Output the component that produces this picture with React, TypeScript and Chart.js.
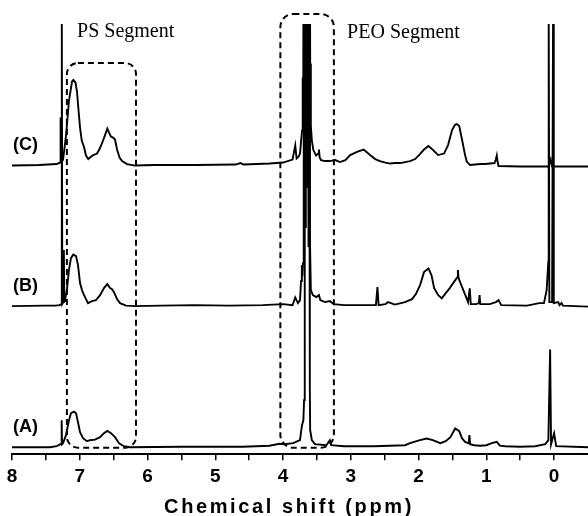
import React, { useEffect, useRef } from "react";
import { Chart, registerables } from "chart.js";

Chart.register(...registerables);

// ---------- Data (chemical shift in ppm, intensity above each trace's baseline) ----------
const ppmC = [
  8.0, 7.6, 7.34, 7.29, 7.283, 7.276, 7.247, 7.203, 7.159, 7.114, 7.095, 7.063, 7.041, 7.018, 6.996,
  6.971, 6.937, 6.908, 6.874, 6.849, 6.8, 6.745, 6.701, 6.657, 6.627, 6.593, 6.568, 6.539, 6.509,
  6.48, 6.45, 6.413, 6.376, 6.303, 6.185, 5.9, 5.3, 4.7, 4.63, 4.58, 4.2, 4.0, 3.86, 3.82, 3.8, 3.77,
  3.75, 3.72, 3.71, 3.7, 3.69, 3.685, 3.68, 3.672, 3.665, 3.655, 3.648, 3.64, 3.632, 3.625, 3.618,
  3.61, 3.6, 3.59, 3.575, 3.553, 3.513, 3.48, 3.47, 3.46, 3.44, 3.38,
  3.31, 3.23, 3.16, 3.08, 3.01, 2.9, 2.81, 2.716, 2.64, 2.57, 2.49, 2.42, 2.35, 2.27, 2.126, 2.05,
  1.98, 1.92, 1.855, 1.786, 1.712, 1.624, 1.565, 1.506, 1.46, 1.437, 1.4, 1.358, 1.314, 1.29, 1.24,
  1.166, 1.09, 1.018, 0.945, 0.88, 0.86, 0.846, 0.835, 0.82, 0.5, 0.08, 0.05, 0.03, -0.5,
];
const intC = [
  0, 0.5, 1.5, 3, 48, 4, 5.5, 30, 65, 84, 85.5, 83, 74, 55, 38,
  25, 18.5, 10, 6.5, 8, 10.5, 12, 17.5, 25, 30.5, 37, 33, 29, 28,
  26, 16, 8, 4.5, 1.5, 0, 0.5, 0.5, 1, 2.5, 1, 2, 3, 6, 20, 7, 9,
  12, 35, 88, 80, 500, 180, 500, 260, 500, 320, 500, 300, 500, 220, 500,
  500, 102, 40, 25, 15.5, 10, 12, 16, 8, 5.5, 4.5,
  4.5, 5.5, 3.5, 5.5, 10.5, 14, 16, 10.5, 6.5, 4.5, 3, 2, 2.5, 2.5, 4.5, 6.5,
  11.5, 16, 19.5, 15.5, 10.5, 12, 20.5, 35.5, 41, 41.5, 39.5, 25.5, 10.5, 4, 0.5,
  1, 1.5, 1.5, 2, 2.5, 6, 10, 4, -0.5, -1, -1, 6, -1, -1,
];

const ppmB = [
  8.0, 7.5, 7.36, 7.3, 7.272, 7.265, 7.258, 7.242, 7.235, 7.228, 7.218, 7.19, 7.16, 7.13, 7.095,
  7.055, 7.026, 6.996, 6.967, 6.937, 6.878, 6.82, 6.76, 6.7, 6.643, 6.593, 6.553, 6.524, 6.495, 6.45,
  6.406, 6.317, 6.185, 5.8, 5.3, 4.8, 4.3, 4.0, 3.86, 3.82, 3.78, 3.75, 3.735, 3.723, 3.715, 3.705,
  3.695, 3.688, 3.68, 3.672, 3.664, 3.656, 3.648, 3.64, 3.632, 3.624, 3.615,
  3.605, 3.59, 3.56, 3.51, 3.47, 3.45, 3.38, 3.31, 3.25, 3.1, 2.9, 2.63, 2.607, 2.59,
  2.49, 2.45, 2.35, 2.2, 2.097, 2.04, 1.978, 1.92, 1.855, 1.81, 1.77, 1.71, 1.657, 1.6, 1.54, 1.48,
  1.43, 1.42, 1.41, 1.37, 1.31, 1.27, 1.245, 1.23, 1.15, 1.11, 1.1, 1.09, 0.95, 0.86, 0.82, 0.78,
  0.4, 0.22, 0.15, 0.11, 0.085, 0.08, 0.07, 0.03, 0.015, 0.005, -0.06, -0.08, -0.11, -0.13, -0.5,
];
const intB = [
  0, 0.5, 0.5, 1, 2, 300, 2, 4, 56, 5, 6, 16, 36, 48, 51.5,
  50, 41, 23, 16, 11, 3, 5, 6, 11, 18, 22, 18, 17, 14, 7,
  3, 0.5, 0, 0.5, 1, 0.5, 1, 2, 1, 8.7, 3, 6, 25, 41, 30, 43,
  500, 150, 500, 240, 500, 300, 500, 260, 500, 200, 500,
  73, 16, 11, 9, 11, 6, 4, 5, 2, 1, 1, 1, 19, 1,
  2, 4, 1.5, 4, 7, 12, 21, 34, 37.7, 31, 18, 11, 7.7, 13, 18, 24,
  28.7, 36, 28, 21, 11, 4, 17.7, 2, 2, 3, 11, 2, 2, 4, 6, 1,
  0.5, 3, 3, 16, 45, 300, 4, 4, 300, 3, 4, 1, 3, 0.5, -0.5,
];

const ppmA = [
  8.0, 7.44, 7.34, 7.29, 7.272, 7.267, 7.262, 7.247, 7.203, 7.159, 7.13, 7.085, 7.055, 7.026, 6.996,
  6.952, 6.893, 6.849, 6.775, 6.701, 6.643, 6.593, 6.539, 6.48, 6.42, 6.35, 6.26, 5.5, 4.6, 4.2,
  4.05, 3.98, 3.85, 3.75, 3.735, 3.72, 3.7, 3.69, 3.68, 3.672, 3.664, 3.656, 3.648, 3.64, 3.632,
  3.624, 3.615, 3.605, 3.6, 3.575, 3.53, 3.36, 3.31,
  3.29, 3.1, 2.66, 2.2, 2.126, 1.98, 1.88, 1.79, 1.68, 1.6, 1.53, 1.46, 1.4, 1.36, 1.31, 1.26,
  1.25, 1.24, 1.18, 1.09, 1.0, 0.92, 0.846, 0.8, 0.72, 0.5, 0.28, 0.13, 0.085, 0.059, 0.045, 0.0,
  -0.03, -0.5,
];
const intA = [
  0, 0, 1, 3, 3, 27, 3, 4, 12, 27, 34, 35.5, 34, 25, 15,
  9, 6, 7, 7.5, 10, 14, 16.3, 14, 10, 4, 1, 0, 0.5, 0.5, 1.5,
  3.5, 3, 4, 7, 15, 22, 27, 47, 500, 220, 500, 280, 500, 260, 500,
  200, 500, 60, 17, 7, 3, 2, 7,
  2, 1, 1, 2, 4, 7, 8.7, 7, 4, 6, 10, 18.7, 16, 9, 5, 4,
  12, 3, 2, 1.5, 2, 4, 5.3, 1.5, 1, 0.5, 1, 3, 7, 97.7, 3, 14,
  1, 0,
];

const traceLabels = ["(A)", "(B)", "(C)"];
const xTickLabels = ["0", "1", "2", "3", "4", "5", "6", "7", "8"];
const segmentLabels = ["PS Segment", "PEO Segment"];
const xTitle = "Chemical shift (ppm)";

// ---------- Layout constants ----------
const X_MIN = -0.5;
const X_MAX = 8;
const Y_MAX = 430;
const OFFSETS = [7, 148, 288.5]; // baselines of A, B, C
const BOXES = [
  { left: 7.19, right: 6.17, top: 391, bottom: 6.5, radius: 11 },
  { left: 4.04, right: 3.25, top: 440, bottom: 6.5, radius: 13 },
];
const SEGMENT_POS = [
  { x: 7.04, y: 417 },
  { x: 3.055, y: 416 },
];

function build(ppm: number[], inten: number[], offset: number) {
  return ppm.map((p, i) => ({ x: p, y: inten[i] + offset }));
}

const overlay = {
  id: "overlay",
  afterDatasetsDraw(chart: any) {
    const { ctx, scales, chartArea } = chart;
    const xs = scales.x;
    const ys = scales.y;
    ctx.save();
    ctx.strokeStyle = "#000";
    ctx.lineWidth = 2;
    ctx.setLineDash([6, 4]);
    for (const b of BOXES) {
      const l = xs.getPixelForValue(b.left);
      const r = xs.getPixelForValue(b.right);
      const t = ys.getPixelForValue(b.top);
      const bt = ys.getPixelForValue(b.bottom);
      ctx.beginPath();
      ctx.roundRect(l, t, r - l, bt - t, b.radius);
      ctx.stroke();
    }
    ctx.setLineDash([]);
    ctx.fillStyle = "#000";
    ctx.font = '20px "Liberation Serif", "Times New Roman", serif';
    ctx.textAlign = "left";
    ctx.textBaseline = "alphabetic";
    segmentLabels.forEach((s, i) => {
      ctx.fillText(s, xs.getPixelForValue(SEGMENT_POS[i].x), ys.getPixelForValue(SEGMENT_POS[i].y));
    });
    ctx.font = 'bold 18px "Liberation Sans", Arial, sans-serif';
    ctx.textBaseline = "middle";
    traceLabels.forEach((s, i) => {
      ctx.fillText(s, 13, ys.getPixelForValue(OFFSETS[i] + 20.5));
    });
    ctx.font = 'bold 20px "Liberation Sans", Arial, sans-serif';
    ctx.textAlign = "center";
    ctx.textBaseline = "alphabetic";
    try {
      (ctx as any).letterSpacing = "2.6px";
    } catch (e) {}
    ctx.fillText(xTitle, 289, chartArea.bottom + 59);
    try {
      (ctx as any).letterSpacing = "0px";
    } catch (e) {}
    ctx.restore();
  },
};

export default function App() {
  const ref = useRef<HTMLCanvasElement>(null);
  useEffect(() => {
    if (!ref.current) return;
    const series = [
      build(ppmA, intA, OFFSETS[0]),
      build(ppmB, intB, OFFSETS[1]),
      build(ppmC, intC, OFFSETS[2]),
    ];
    const chart = new Chart(ref.current, {
      type: "line",
      data: {
        datasets: series.map((d, i) => ({
          label: traceLabels[i],
          data: d,
          borderColor: "#000",
          borderWidth: 1.9,
          pointRadius: 0,
          tension: 0,
          fill: false,
        })),
      },
      options: {
        responsive: false,
        animation: false,
        events: [],
        layout: { padding: { left: 12, right: 0, top: 24, bottom: 23 } },
        plugins: { legend: { display: false }, tooltip: { enabled: false } },
        scales: {
          x: {
            type: "linear",
            reverse: true,
            min: X_MIN,
            max: X_MAX,
            afterFit: (s: any) => {
              s.paddingRight = 0;
              s.paddingLeft = 0;
            },
            border: { display: true, color: "#000", width: 2 },
            grid: {
              drawOnChartArea: false,
              drawTicks: true,
              tickLength: 6,
              lineWidth: 1.5,
              color: (c: any) =>
                c.tick && Math.abs(c.tick.value - X_MIN) < 1e-6 ? "rgba(0,0,0,0)" : "#000",
            },
            ticks: {
              stepSize: 0.5,
              autoSkip: false,
              maxRotation: 0,
              padding: 5,
              color: "#000",
              font: { family: '"Liberation Sans", Arial, sans-serif', weight: "bold", size: 19 },
              callback: (v: any) => {
                const n = Number(v);
                if (Math.abs(n - Math.round(n)) < 1e-6) {
                  const idx = Math.round(n);
                  return xTickLabels[idx] ?? "";
                }
                return "";
              },
            },
          },
          y: { display: false, min: 0, max: Y_MAX },
        },
      },
      plugins: [overlay],
    });
    return () => chart.destroy();
  }, []);
  return (
    <div style={{ position: "absolute", left: 0, top: 0, width: 588, height: 516, background: "#fff" }}>
      <canvas ref={ref} width={588} height={516} style={{ display: "block" }} />
    </div>
  );
}
